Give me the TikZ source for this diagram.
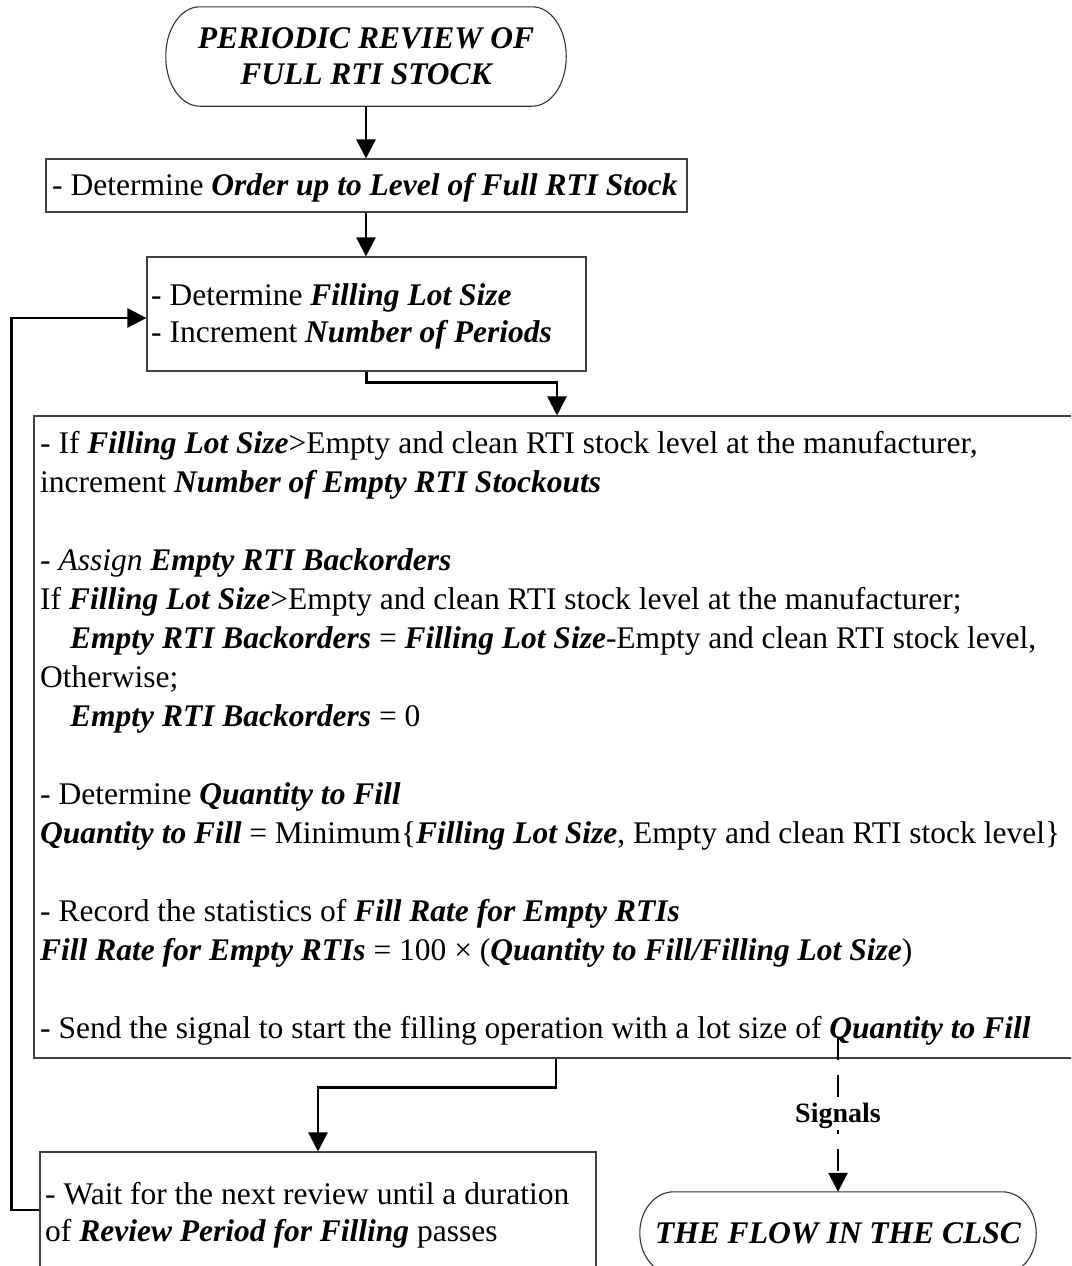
\documentclass[tikz,border=0pt]{standalone}
\usepackage{fontspec}
\setmainfont{Liberation Serif}
\usetikzlibrary{arrows.meta}
\newcommand\bix[1]{\textbf{\textit{#1}}}
% outline of a terminal: straight top and bottom, elliptical ends
\newcommand\stadiumoutline[3]{%
  \draw[termline] ([xshift=#2]#1.north west) -- ([xshift=-#2]#1.north east)
    arc[start angle=90,end angle=0,x radius=#2,y radius=#3] -- ([yshift=#3]#1.south east)
    arc[start angle=0,end angle=-90,x radius=#2,y radius=#3] -- ([xshift=#2]#1.south west)
    arc[start angle=270,end angle=180,x radius=#2,y radius=#3] -- ([yshift=-#3]#1.north west)
    arc[start angle=180,end angle=90,x radius=#2,y radius=#3] -- cycle;}
\begin{document}
\begin{tikzpicture}[x=1pt,y=-1pt,
  box/.style={draw=black!75, line width=1.1pt, inner sep=0pt, rectangle},
  termline/.style={draw=black!80, line width=1.1pt},
  terminal/.style={inner sep=0pt, align=center,
    font=\fontsize{31.5}{36}\selectfont\bfseries\itshape},
  txt/.style={anchor=base west, inner sep=0pt, font=\fontsize{31.5}{38}\selectfont},
  flow/.style={line width=2.6pt, -{Triangle[width=19pt,length=19pt]}},
  signal/.style={line width=2.6pt, dash pattern=on 22pt off 15pt,
    -{Triangle[width=19pt,length=19pt]}},
  siglabel/.style={fill=white, inner sep=1pt, font=\fontsize{28}{30}\selectfont\bfseries}
]
\clip (0,0) rectangle (1071,1266);
\fill[white] (0,0) rectangle (1071,1266);

% process boxes
\node[terminal, minimum width=400pt, minimum height=99pt] (t1) at (366,56.5)
  {PERIODIC REVIEW OF\\FULL RTI STOCK};
\stadiumoutline{t1}{34pt}{49pt}
\node[box, minimum width=641pt, minimum height=53pt] (b2) at (366.5,185.5) {};
\node[box, minimum width=439pt, minimum height=114pt] (b3) at (366.5,314) {};
\node[box, minimum width=1056pt, minimum height=642pt] (b4) at (562,737) {};
\node[box, minimum width=556pt, minimum height=148pt] (b5) at (318,1226) {};
\node[terminal, minimum width=396pt, minimum height=82pt] (t2) at (838,1233)
  {THE FLOW IN THE CLSC};
\stadiumoutline{t2}{34pt}{41pt}

% box texts
\node[txt] (b2a) at (52,195) {- Determine \bix{Order up to Level of Full RTI Stock}};
\node[txt] (b3a) at (151,305) {- Determine \bix{Filling Lot Size}};
\node[txt] (b3b) at (151,342) {- Increment \bix{Number of Periods}};

\node[txt] (l1) at (40,453) {- If \bix{Filling Lot Size}>Empty and clean RTI stock level at the manufacturer,};
\node[txt] (l2) at (40,492) {increment \bix{Number of Empty RTI Stockouts}};
\node[txt] (l3) at (40,570) {\textit{- Assign} \bix{Empty RTI Backorders}};
\node[txt] (l4) at (40,609) {If \bix{Filling Lot Size}>Empty and clean RTI stock level at the manufacturer;};
\node[txt] (l5) at (70,648) {\bix{Empty RTI Backorders} = \bix{Filling Lot Size}-Empty and clean RTI stock level,};
\node[txt] (l6) at (40,687) {Otherwise;};
\node[txt] (l7) at (70,726) {\bix{Empty RTI Backorders} = 0};
\node[txt] (l8) at (40,804) {- Determine \bix{Quantity to Fill}};
\node[txt] (l9) at (40,843) {\bix{Quantity to Fill} = Minimum\{\bix{Filling Lot Size}, Empty and clean RTI stock level\}};
\node[txt] (l10) at (40,921) {- Record the statistics of \bix{Fill Rate for Empty RTIs}};
\node[txt] (l11) at (40,960) {\bix{Fill Rate for Empty RTIs} = 100 × (\bix{Quantity to Fill/Filling Lot Size})};
\node[txt] (l12) at (40,1038) {- Send the signal to start the filling operation with a lot size of \bix{Quantity to Fill}};

\node[txt] (w1) at (45,1204) {- Wait for the next review until a duration};
\node[txt] (w2) at (45,1241) {of \bix{Review Period for Filling} passes};

% connectors
\draw[flow] (t1.south) -- (t1.south |- b2.north);
\draw[flow] (t1.south |- b2.south) -- (t1.south |- b3.north);
\draw[flow] (b3.south) -- ++(0,11) -| ([xshift=-5pt]b4.north);
\draw[flow] ([xshift=-6pt]b4.south) -- ++(0,29) -| (b5.north);
\draw[flow] ([yshift=16pt]b5.west) -- ++(-28,0) |- ([yshift=-4pt]b3.west);

% signal to the closed-loop supply chain
\coordinate (sigstart) at (838,1038);
\draw[signal] (sigstart) -- (t2.north);
\node[siglabel] (sig) at (838,1116) {Signals};
\end{tikzpicture}
\end{document}
